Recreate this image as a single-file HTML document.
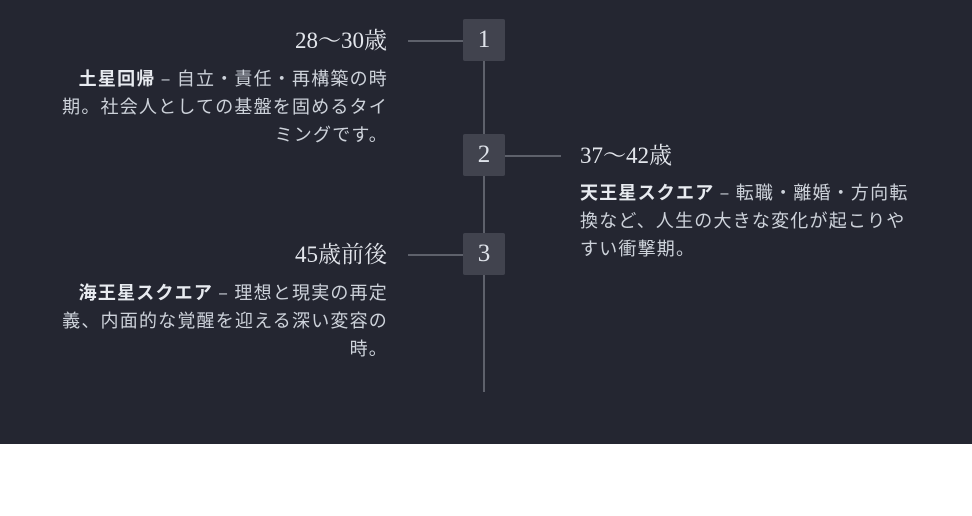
<!DOCTYPE html>
<html><head><meta charset="utf-8"><style>
body{margin:0;width:972px;height:516px;background:#fff;overflow:hidden;font-family:"Liberation Sans","Noto Sans CJK JP",sans-serif}
.bg{position:absolute;left:0;top:0;width:972px;height:444px;background:#242631}
.v{position:absolute;left:483px;top:40px;width:2px;height:352px;background:#5e616b}
.h{position:absolute;height:2px;background:#5e616b;width:56px}
.box{position:absolute;left:463px;width:42px;height:42px;background:#41434e;border-radius:2px;color:#dfe3ea;font:25px "Liberation Serif","Noto Serif CJK SC",serif;text-align:center;line-height:42px}
.t{position:absolute;color:#e3e6ec;font:23px/30px "Liberation Serif","Noto Serif CJK JP",serif;white-space:nowrap}
.d{position:absolute;color:#cdd2da;font-size:18px;letter-spacing:1.2px;line-height:28px;white-space:nowrap;font-family:"Noto Sans CJK JP",sans-serif}
.d b{color:#e8ebf0}
.r{text-align:right;right:584px}
</style></head><body>
<div class="bg"></div>
<div class="v"></div>
<div class="h" style="left:408px;top:40px"></div>
<div class="h" style="left:505px;top:155px"></div>
<div class="h" style="left:408px;top:254px"></div>
<div class="box" style="top:19px">1</div>
<div class="box" style="top:134px">2</div>
<div class="box" style="top:233px">3</div>
<div class="t" style="right:585px;top:26px">28〜30歳</div>
<div class="d r" style="top:64px"><b>土星回帰</b> – 自立・責任・再構築の時<br>期。社会人としての基盤を固めるタイ<br>ミングです。</div>
<div class="t" style="left:580px;top:141px">37〜42歳</div>
<div class="d" style="left:580px;top:178px"><b>天王星スクエア</b> – 転職・離婚・方向転<br>換など、人生の大きな変化が起こりや<br>すい衝撃期。</div>
<div class="t" style="right:585px;top:240px">45歳前後</div>
<div class="d r" style="top:278px"><b>海王星スクエア</b> – 理想と現実の再定<br>義、内面的な覚醒を迎える深い変容の<br>時。</div>
</body></html>
